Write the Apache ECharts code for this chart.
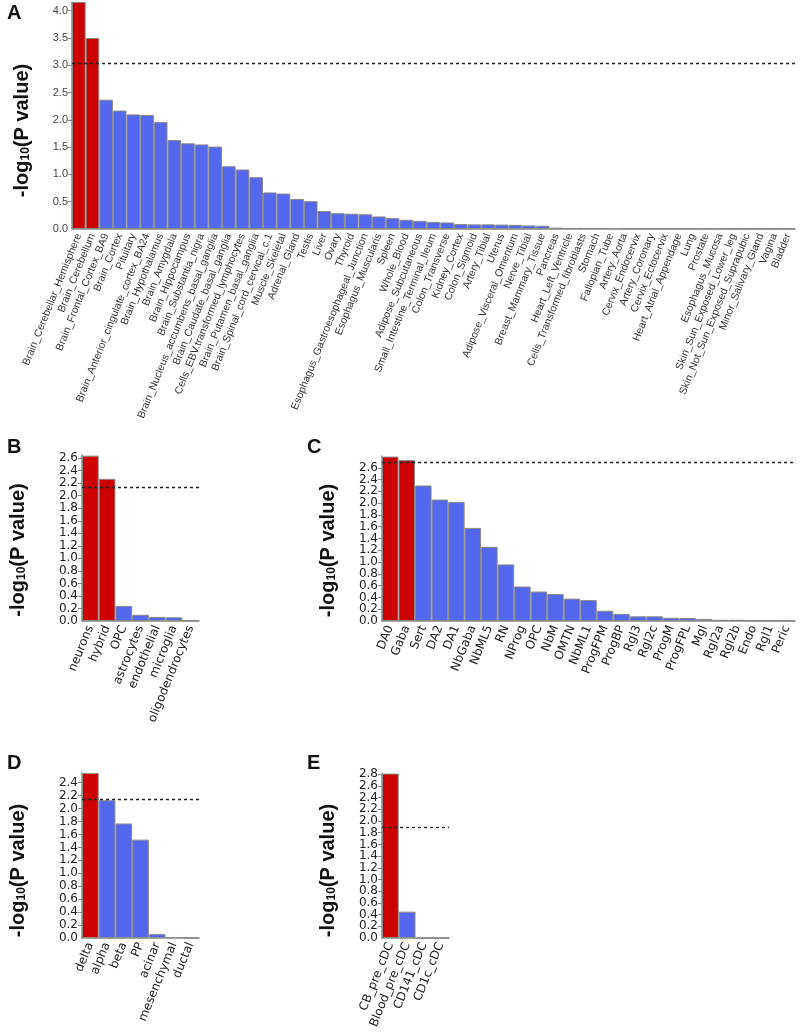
<!DOCTYPE html>
<html><head><meta charset="utf-8">
<script src="https://cdn.jsdelivr.net/npm/echarts@6/dist/echarts.min.js"></script>
<style>html,body{margin:0;padding:0;background:#fff}#c{width:800px;height:1035px}</style>
</head><body><div id="c"></div>
<script>
// ---- Panel A (GTEx tissues) ----
const catsA = ["Brain_Cerebellar_Hemisphere","Brain_Cerebellum","Brain_Frontal_Cortex_BA9","Brain_Cortex","Pituitary","Brain_Anterior_cingulate_cortex_BA24","Brain_Hypothalamus","Brain_Amygdala","Brain_Hippocampus","Brain_Substantia_nigra","Brain_Nucleus_accumbens_basal_ganglia","Brain_Caudate_basal_ganglia","Cells_EBV.transformed_lymphocytes","Brain_Putamen_basal_ganglia","Brain_Spinal_cord_cervical_c.1","Muscle_Skeletal","Adrenal_Gland","Testis","Liver","Ovary","Thyroid","Esophagus_Gastroesophageal_Junction","Esophagus_Muscularis","Spleen","Whole_Blood","Adipose_Subcutaneous","Small_Intestine_Terminal_Ileum","Colon_Transverse","Kidney_Cortex","Colon_Sigmoid","Artery_Tibial","Uterus","Adipose_Visceral_Omentum","Nerve_Tibial","Breast_Mammary_Tissue","Pancreas","Heart_Left_Ventricle","Cells_Transformed_fibroblasts","Stomach","Fallopian_Tube","Artery_Aorta","Cervix_Endocervix","Artery_Coronary","Cervix_Ectocervix","Heart_Atrial_Appendage","Lung","Prostate","Esophagus_Mucosa","Skin_Sun_Exposed_Lower_leg","Skin_Not_Sun_Exposed_Suprapubic","Minor_Salivary_Gland","Vagina","Bladder"];
const valsA = [4.16,3.50,2.37,2.17,2.10,2.09,1.96,1.63,1.57,1.55,1.51,1.15,1.09,0.95,0.67,0.65,0.55,0.51,0.33,0.29,0.28,0.27,0.23,0.20,0.17,0.15,0.13,0.12,0.09,0.085,0.085,0.08,0.075,0.065,0.06,0.025,0.02,0.02,0.02,0.018,0.016,0.015,0.015,0.014,0.013,0.012,0.012,0.011,0.01,0.01,0.01,0.01,0.01];
const threshA = 3.03;
// ---- Panel B ----
const catsB = ["neurons","hybrid","OPC","astrocytes","endothelial","microglia","oligodendrocytes"];
const valsB = [2.64,2.27,0.24,0.10,0.065,0.06,0.01];
const threshB = 2.14;
// ---- Panel C ----
const catsC = ["DA0","Gaba","Sert","DA2","DA1","NbGaba","NbML5","RN","NProg","OPC","NbM","OMTN","NbML1","ProgFPM","ProgBP","Rgl3","Rgl2c","ProgM","ProgFPL","Mgl","Rgl2a","Rgl2b","Endo","Rgl1","Peric"];
const valsC = [2.79,2.73,2.30,2.06,2.02,1.58,1.26,0.96,0.585,0.50,0.46,0.38,0.355,0.175,0.12,0.08,0.08,0.055,0.05,0.035,0.02,0.02,0.01,0.01,0.005];
const threshC = 2.70;
// ---- Panel D ----
const catsD = ["delta","alpha","beta","PP","acinar","mesenchymal","ductal"];
const valsD = [2.55,2.13,1.77,1.52,0.06,0.015,0.005];
const threshD = 2.15;
// ---- Panel E ----
const catsE = ["CB_pre_cDC","Blood_pre_cDC","CD141_cDC","CD1c_cDC"];
const valsE = [2.81,0.45,0,0];
const threshE = 1.90;
// axis ranges
const yMaxA = 4.16, yIntA = 0.5;
const yMaxB = 2.65, yMaxC = 2.8, yMaxD = 2.55, yMaxE = 2.82, yIntSmall = 0.2;

const RED = '#cc0000', BLUE = '#5468ee';
const SANS = 'Liberation Sans, Arial, sans-serif', DEJ = 'DejaVu Sans, sans-serif';
const panels = [
  {cats: catsA, vals: valsA, th: threshA, max: yMaxA, iv: yIntA, grid: {left:72, top:2, width:723, height:227}, font:SANS, xfs: 10.5, yfs: 11, ycol:'#444', xcol:'#333', gap: 40, titlePad:[0,30,0,0]},
  {cats: catsB, vals: valsB, th: threshB, max: yMaxB, iv: yIntSmall, grid: {left:82, top:455, width:117, height:166}, font:DEJ, xfs: 12, yfs: 12, ycol:'#222', xcol:'#222', gap: 54, titlePad:[0,24,0,0]},
  {cats: catsC, vals: valsC, th: threshC, max: yMaxC, iv: yIntSmall, grid: {left:382, top:456, width:413, height:165}, font:DEJ, xfs: 12, yfs: 12, ycol:'#222', xcol:'#222', gap: 44, titlePad:[0,24,0,0]},
  {cats: catsD, vals: valsD, th: threshD, max: yMaxD, iv: yIntSmall, grid: {left:82, top:773, width:117, height:165}, font:DEJ, xfs: 12, yfs: 12, ycol:'#222', xcol:'#222', gap: 54, titlePad:[0,30,0,0]},
  {cats: catsE, vals: valsE, th: threshE, max: yMaxE, iv: yIntSmall, grid: {left:382, top:773, width:67, height:165}, font:DEJ, xfs: 12, yfs: 12, ycol:'#222', xcol:'#222', gap: 44, titlePad:[0,30,0,0]}
];

const option = {animation:false, backgroundColor:'#fff', grid:[], xAxis:[], yAxis:[], series:[], graphic:[]};
panels.forEach((p, i) => {
  option.grid.push(Object.assign({containLabel:false}, p.grid));
  option.xAxis.push({
    type:'category', gridIndex:i, data:p.cats,
    axisLine:{lineStyle:{color:'#888', width:1.5}},
    axisTick:{alignWithLabel:true, length:4, lineStyle:{color:'#888'}},
    axisLabel:{interval:0, rotate:68, fontFamily:p.font, fontSize:p.xfs, color:p.xcol, margin:5, hideOverlap:false}
  });
  const lbl = {hideOverlap:false, fontFamily:p.font, fontSize:p.yfs, color:p.ycol, margin:4, formatter: v => v.toFixed(1)};
  // main value axis (labels from first interval tick upward)
  option.yAxis.push({
    type:'value', gridIndex:i, position:'left', offset:0, min:0, max:p.max, interval:p.iv,
    splitLine:{show:false},
    axisLine:{show:true, lineStyle:{color:'#888', width:1.5}},
    axisTick:{show:true, length:4, lineStyle:{color:'#888'}},
    axisLabel:Object.assign({showMaxLabel:false, showMinLabel:false}, lbl),
    name:'{t|-log}{s|10}{t|(P value)}', nameLocation:'middle', nameRotate:90, nameGap:p.gap,
    nameTextStyle:{padding:p.titlePad, rich:{
      t:{fontFamily:SANS, fontWeight:'bold', fontSize:20, color:'#111'},
      s:{fontFamily:SANS, fontWeight:'bold', fontSize:12, color:'#111', verticalAlign:'bottom', padding:[8,0,0,0]}
    }}
  });
  // companion axis on the same line that only carries the 0.0 label
  option.yAxis.push({
    type:'value', gridIndex:i, position:'left', offset:0, min:0, max:p.max, interval:p.max,
    splitLine:{show:false}, axisLine:{show:false}, axisTick:{show:false},
    axisLabel:Object.assign({showMaxLabel:false, showMinLabel:true}, lbl)
  });
  option.series.push({
    type:'bar', xAxisIndex:i, yAxisIndex:2*i, barCategoryGap:'0%',
    data:p.vals.map(v => ({value:v, itemStyle:{color: v > p.th ? RED : BLUE}})),
    itemStyle:{borderColor:'#8a8a8a', borderWidth:1},
    markLine:{silent:true, symbol:'none', label:{show:false},
      lineStyle:{color:'#222', type:[3,3], width:1.3},
      data:[{yAxis:p.th}]}
  });
});
const letters = [['A',7,3],['B',7,437],['C',307,437],['D',7,753],['E',307,753]];
letters.forEach(l => option.graphic.push({type:'text', left:l[1], top:l[2],
  style:{text:l[0], font:'bold 20px Liberation Sans, Arial, sans-serif', fill:'#111'}}));

const chart = echarts.init(document.getElementById('c'), null, {renderer:'canvas'});
chart.setOption(option);
</script></body></html>
